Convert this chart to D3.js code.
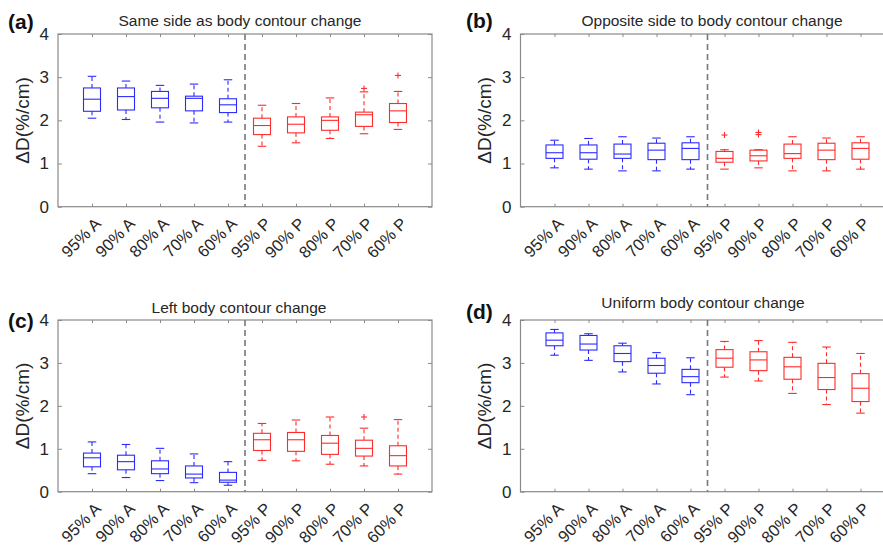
<!DOCTYPE html>
<html><head><meta charset="utf-8">
<script src="https://cdn.jsdelivr.net/npm/d3@7"></script>
<style>body{margin:0;background:#fff}svg{display:block}</style>
</head><body>
<svg id="chart" width="883" height="548"></svg>
<script>
// ---------- data ----------
const categories = ["95% A","90% A","80% A","70% A","60% A","95% P","90% P","80% P","70% P","60% P"];
const groups = ["A","A","A","A","A","P","P","P","P","P"];
const yTicks = [0, 1, 2, 3, 4];
const panelLabels = ["(a)", "(b)", "(c)", "(d)"];
const titles = ["Same side as body contour change", "Opposite side to body contour change",
                "Left body contour change", "Uniform body contour change"];
const yLabel = "ΔD(%/cm)";

// (a) Same side
const aHigh = [3.02, 2.91, 2.81, 2.84, 2.94, 2.35, 2.39, 2.52, 2.66, 2.67];
const aQ3   = [2.75, 2.75, 2.67, 2.56, 2.50, 2.05, 2.08, 2.08, 2.19, 2.39];
const aMed  = [2.49, 2.55, 2.51, 2.51, 2.36, 1.88, 1.91, 2.00, 2.13, 2.22];
const aQ1   = [2.21, 2.24, 2.29, 2.22, 2.18, 1.67, 1.71, 1.77, 1.86, 1.95];
const aLow  = [2.05, 2.02, 1.96, 1.94, 1.96, 1.40, 1.48, 1.58, 1.69, 1.79];
const aOut  = [[], [], [], [], [], [], [], [], [2.74], [3.04]];

// (b) Opposite side
const bHigh = [1.54, 1.58, 1.62, 1.59, 1.62, 1.32, 1.32, 1.62, 1.59, 1.62];
const bQ3   = [1.43, 1.43, 1.45, 1.47, 1.48, 1.28, 1.31, 1.45, 1.47, 1.48];
const bMed  = [1.25, 1.25, 1.22, 1.31, 1.35, 1.12, 1.18, 1.23, 1.31, 1.35];
const bQ1   = [1.12, 1.10, 1.12, 1.09, 1.09, 1.03, 1.06, 1.12, 1.09, 1.10];
const bLow  = [0.90, 0.87, 0.83, 0.83, 0.87, 0.87, 0.90, 0.83, 0.83, 0.87];
const bOut  = [[], [], [], [], [], [1.66], [1.72, 1.67], [], [], []];

// (c) Left
const cHigh = [1.16, 1.10, 1.01, 0.88, 0.70, 1.59, 1.67, 1.74, 1.48, 1.68];
const cQ3   = [0.90, 0.85, 0.72, 0.60, 0.45, 1.36, 1.38, 1.31, 1.20, 1.07];
const cMed  = [0.79, 0.70, 0.53, 0.41, 0.27, 1.21, 1.21, 1.13, 1.01, 0.84];
const cQ1   = [0.58, 0.51, 0.42, 0.32, 0.22, 0.96, 0.94, 0.87, 0.83, 0.60];
const cLow  = [0.42, 0.33, 0.26, 0.21, 0.15, 0.73, 0.72, 0.64, 0.60, 0.41];
const cOut  = [[], [], [], [], [], [], [], [], [1.74], []];

// (d) Uniform
const dHigh = [3.78, 3.68, 3.46, 3.24, 3.12, 3.50, 3.52, 3.48, 3.37, 3.22];
const dQ3   = [3.70, 3.64, 3.40, 3.11, 2.85, 3.31, 3.26, 3.13, 2.99, 2.75];
const dMed  = [3.53, 3.44, 3.22, 2.94, 2.68, 3.11, 3.07, 2.91, 2.66, 2.41];
const dQ1   = [3.40, 3.30, 3.03, 2.76, 2.54, 2.90, 2.82, 2.62, 2.38, 2.10];
const dLow  = [3.18, 3.06, 2.79, 2.51, 2.26, 2.67, 2.58, 2.29, 2.03, 1.83];
const dOut  = [[], [], [], [], [], [], [], [], [], []];

const panelData = [
  {high: aHigh, q3: aQ3, med: aMed, q1: aQ1, low: aLow, out: aOut},
  {high: bHigh, q3: bQ3, med: bMed, q1: bQ1, low: bLow, out: bOut},
  {high: cHigh, q3: cQ3, med: cMed, q1: cQ1, low: cLow, out: cOut},
  {high: dHigh, q3: dQ3, med: dMed, q1: dQ1, low: dLow, out: dOut}
];

// ---------- layout ----------
const layout = [
  {left: 58,    top: 34,  bottom: 206.7, titleX: 240, titleY: 26,  labX: 8,   labY: 29,  yLabX: 22},
  {left: 520.5, top: 34,  bottom: 206.7, titleX: 712, titleY: 26,  labX: 466, labY: 28,  yLabX: 484},
  {left: 58,    top: 320, bottom: 491.7, titleX: 239, titleY: 313, labX: 8,   labY: 328, yLabX: 22},
  {left: 520.5, top: 320, bottom: 491.7, titleX: 703, titleY: 308, labX: 466, labY: 319, yLabX: 484}
];
const plotW = 374;
const axisColor = "#8a8a8a";
const textColor = "#262626";
const colors = {A: "#2b2bff", P: "#ff2b2b"};
const font = "'Liberation Sans', Arial, Helvetica, sans-serif";

const svg = d3.select("#chart");

panelData.forEach((pd, pi) => {
  const L = layout[pi];
  const x = d3.scaleLinear().domain([0, categories.length + 1]).range([L.left, L.left + plotW]);
  const y = d3.scaleLinear().domain([0, 4]).range([L.bottom, L.top]);
  const g = svg.append("g");
  const bw = x(0.25) - x(0);   // half box width
  const cw = bw * 0.5;         // half cap width

  // frame
  g.append("rect").attr("x", x(0)).attr("y", y(4)).attr("width", x(11) - x(0)).attr("height", y(0) - y(4))
    .attr("fill", "none").attr("stroke", axisColor).attr("stroke-width", 1.2);

  // axes (inward ticks)
  const catIdx = d3.range(1, categories.length + 1);
  const styleAxis = sel => {
    sel.select(".domain").remove();
    sel.selectAll("line").attr("stroke", axisColor).attr("stroke-width", 1);
    sel.selectAll("text").attr("fill", textColor).style("font-family", font);
  };
  g.append("g").attr("transform", `translate(${x(0)},0)`)
    .call(d3.axisLeft(y).tickValues(yTicks).tickSize(-4).tickPadding(9).tickFormat(d3.format("d")))
    .call(styleAxis).selectAll("text").style("font-size", "17px");
  g.append("g").attr("transform", `translate(${x(11)},0)`)
    .call(d3.axisRight(y).tickValues(yTicks).tickSize(-4).tickFormat(""))
    .call(styleAxis);
  g.append("g").attr("transform", `translate(0,${y(0)})`)
    .call(d3.axisBottom(x).tickValues(catIdx).tickSize(-3).tickFormat(""))
    .call(styleAxis);
  g.append("g").attr("transform", `translate(0,${y(4)})`)
    .call(d3.axisTop(x).tickValues(catIdx).tickSize(-3).tickFormat(""))
    .call(styleAxis);

  // rotated category labels
  g.selectAll("text.xl").data(categories).enter().append("text")
    .attr("class", "xl")
    .attr("transform", (d, i) => `translate(${x(i + 1) + 6},${y(0) + 14}) rotate(-45)`)
    .attr("text-anchor", "end")
    .attr("dy", "0.35em")
    .style("font-family", font).style("font-size", "16.5px").attr("fill", textColor)
    .text(d => d);

  // divider
  g.append("line").attr("x1", x(5.5)).attr("x2", x(5.5)).attr("y1", y(4)).attr("y2", y(0))
    .attr("stroke", "#777").attr("stroke-width", 1.6).attr("stroke-dasharray", "6,4");

  // boxes
  categories.forEach((c, i) => {
    const cx = x(i + 1);
    const col = colors[groups[i]];
    const bx = g.append("g").attr("stroke", col).attr("fill", "none").attr("stroke-width", 1.1);
    // whiskers
    bx.append("line").attr("x1", cx).attr("x2", cx).attr("y1", y(pd.q3[i])).attr("y2", y(pd.high[i]))
      .attr("stroke-dasharray", "4,3");
    bx.append("line").attr("x1", cx).attr("x2", cx).attr("y1", y(pd.q1[i])).attr("y2", y(pd.low[i]))
      .attr("stroke-dasharray", "4,3");
    // caps
    [pd.high[i], pd.low[i]].forEach(v => {
      bx.append("line").attr("x1", cx - cw).attr("x2", cx + cw).attr("y1", y(v)).attr("y2", y(v));
    });
    // box
    bx.append("rect").attr("x", cx - bw).attr("y", y(pd.q3[i])).attr("width", 2 * bw)
      .attr("height", y(pd.q1[i]) - y(pd.q3[i]));
    // median
    bx.append("line").attr("x1", cx - bw).attr("x2", cx + bw).attr("y1", y(pd.med[i])).attr("y2", y(pd.med[i]));
    // outliers
    pd.out[i].forEach(v => {
      bx.append("line").attr("x1", cx - 3).attr("x2", cx + 3).attr("y1", y(v)).attr("y2", y(v));
      bx.append("line").attr("x1", cx).attr("x2", cx).attr("y1", y(v) - 3).attr("y2", y(v) + 3);
    });
  });

  // title
  g.append("text").attr("x", L.titleX).attr("y", L.titleY).attr("text-anchor", "middle")
    .style("font-family", font).style("font-size", "15.5px").attr("fill", textColor).text(titles[pi]);
  // panel label
  g.append("text").attr("x", L.labX).attr("y", L.labY)
    .style("font-family", font).style("font-size", "21px").style("font-weight", "bold")
    .attr("fill", "#111").text(panelLabels[pi]);
  // y label
  g.append("text").attr("transform", `translate(${L.yLabX + 7},${(L.top + L.bottom) / 2}) rotate(-90)`)
    .attr("text-anchor", "middle")
    .style("font-family", font).style("font-size", "19px").attr("fill", textColor).text(yLabel);
});
</script>
</body></html>
